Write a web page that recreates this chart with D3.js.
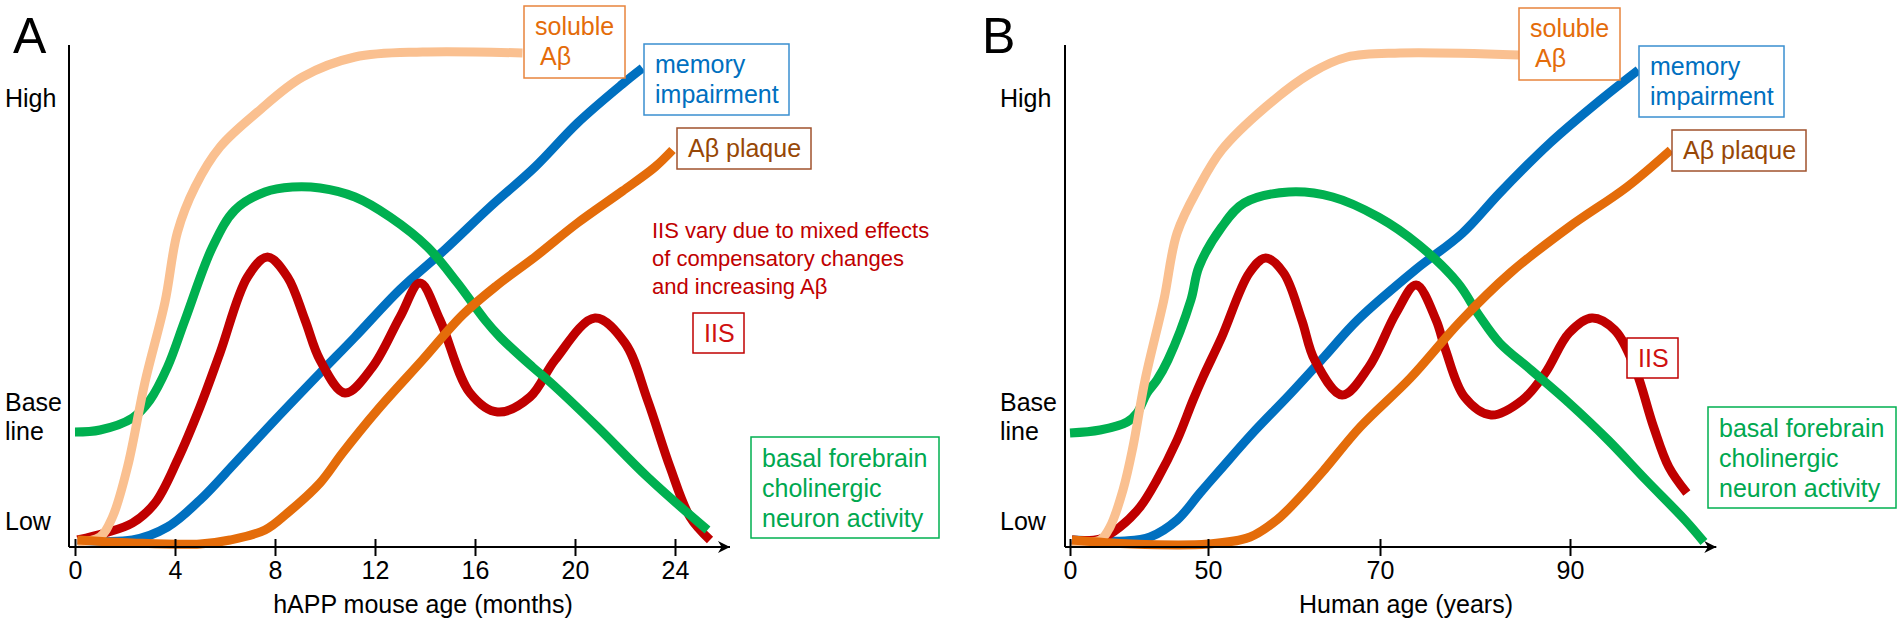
<!DOCTYPE html>
<html>
<head>
<meta charset="utf-8">
<script src="https://cdn.jsdelivr.net/npm/d3@7"></script>
<style>
body{margin:0;background:#fff;}
text{font-family:"Liberation Sans",Arial,sans-serif;}
</style>
</head>
<body>
<script>
// tick labels
var monthTicks = [0,4,8,12,16,20,24];
var yearTicks = [0,50,70,90];

// panel A, x = months, y = level (0 low .. 100 high)
var solubleA = [[0.1,1],[1,2],[1.5,6],[2.1,16],[2.8,33],[3.6,49],[4.1,63],[4.8,72],[5.8,80],[7.3,87],[9.1,94],[11.2,98],[13.9,99],[17.9,98.8]];
var greenA = [[0,23],[1,23.4],[2.3,25.8],[3,29.4],[3.7,36],[4.4,45.4],[5.5,60],[6.4,67.4],[7.6,71],[8.7,72],[9.8,71.8],[11.2,70],[12.6,66],[14.1,60],[15.3,52.8],[16.4,45.4],[17,42],[18.3,36],[19,33],[20.9,24],[22.9,14],[25.3,3.4]];
var blueA = [[0.1,1.4],[2.3,1.4],[3.7,4],[5,9.4],[6.4,16.8],[8,25.4],[9.8,34.8],[11.2,42],[13,51.5],[14.8,59.5],[16.6,68],[18.4,76],[20.1,84.8],[21.9,92.6],[22.7,95.8]];
var orangeA = [[0.1,1.4],[2.3,0.8],[5,0.6],[6.2,1.4],[7.6,3.4],[8.5,6.8],[9.8,12.8],[10.7,18.8],[12.1,27.4],[13.9,37.4],[15.5,46.4],[16.9,52.4],[18.4,58],[20.1,64.8],[21.9,71.2],[23.2,76],[23.9,79.4]];
var redA = [[0.1,1.4],[1.2,2.8],[2.3,4.8],[3.2,8.8],[4.1,17.4],[5,28],[5.8,38.8],[6.9,54],[7.7,58],[8.5,54],[9.2,45.4],[9.8,37.4],[10.8,30.8],[11.9,36],[13,46],[13.8,52.8],[14.6,45.4],[15.8,30.8],[16.9,27],[18.2,30],[19.2,37.4],[20.8,45.8],[22,40.8],[22.9,29.4],[23.8,16],[24.6,6],[25.4,1.4]];

// panel B, x = years
var solubleB = [[0.7,1],[10.9,1.4],[14.5,4],[19.2,11.4],[22.8,20],[27.2,33.4],[34,49.4],[38.8,62.8],[46.7,72],[51.6,79.4],[56.7,88],[62,94.8],[66.2,98],[72.1,98.8],[84.6,98.4]];
var greenB = [[0,22.8],[10.9,23.4],[20.7,25],[24.3,26.8],[27.9,30.8],[31.5,33.4],[35.5,37.4],[43.8,49.4],[46.7,56],[51.6,64],[54.2,68.8],[59.4,71],[64.5,70],[69.8,66],[74.1,60.4],[78.2,52.8],[80.4,46.4],[82.6,40.8],[85.9,35.4],[89.9,28.8],[94,21.4],[98,13.4],[102.1,5.4],[104.1,1]];
var blueB = [[0.7,1.4],[20,1.2],[29,2],[38.8,5.4],[47.1,10.8],[51.4,15.4],[55.2,22.8],[59.5,30.5],[63.5,38],[67.4,45.4],[73.7,55.4],[78.7,62.8],[82.6,70.8],[87.9,80.8],[93.2,89.4],[97.2,95.4]];
var orangeB = [[0.7,1.4],[22.5,0.6],[50,0.6],[54.9,2],[58,5.4],[60.7,10],[63.5,15.4],[67.7,24],[73.2,33.8],[78.4,45],[83.7,54.8],[89.9,64],[96,72],[100.6,79.4]];
var redB = [[0.7,1.4],[10.9,1.6],[18.1,4],[25.4,8],[31.5,13.4],[38.8,21.4],[44.6,29.4],[48.2,34],[51.6,42],[54.8,54.8],[56.7,57.8],[58.8,54.8],[60.9,45.4],[62.4,37.4],[65.6,30.4],[68.7,36],[71.7,46.8],[73.8,52.4],[75.9,45.4],[76.9,39.4],[78.9,30],[81.7,26.4],[85,29.4],[87.4,34.8],[89.9,42.8],[92.3,45.8],[94.7,43.4],[96.8,36],[98.8,24],[100.4,16],[102.3,10.8]];

var colors = {soluble:"#FAC090", green:"#00B050", blue:"#0070C0", orange:"#E46C0A", red:"#C00000"};

var svg = d3.select("body").append("svg").attr("width",1902).attr("height",626);

svg.append("defs").append("marker").attr("id","arrow")
  .attr("viewBox","0 0 10 10").attr("refX",10).attr("refY",5)
  .attr("markerWidth",14).attr("markerHeight",12).attr("markerUnits","userSpaceOnUse")
  .attr("orient","auto")
  .append("path").attr("d","M0,0 L10,5 L0,10 L3,5 Z").attr("fill","#000");

var y = d3.scaleLinear().domain([0,100]).range([547,47]);

var xA = d3.scaleLinear().domain([0,24]).range([75,675]);
var xB = d3.scaleLinear().domain([0,50,70,90]).range([1070,1208,1380,1570]);

function drawPanel(p){
  var g = svg.append("g");
  var x = p.x;

  // lines, bottom to top
  var line = d3.line().x(d=>x(d[0])).y(d=>y(d[1])).curve(d3.curveCatmullRom.alpha(0.5));
  p.series.forEach(function(s){
    g.append("path").attr("d",line(s.data)).attr("fill","none")
      .attr("stroke",s.color).attr("stroke-width",9).attr("stroke-linejoin","round");
  });

  // y axis
  g.append("line").attr("x1",p.axisX).attr("x2",p.axisX).attr("y1",45).attr("y2",y(0))
    .attr("stroke","#000").attr("stroke-width",2);
  // x axis with arrow
  g.append("line").attr("x1",p.axisX).attr("x2",x(p.xEnd)).attr("y1",y(0)).attr("y2",y(0))
    .attr("stroke","#000").attr("stroke-width",2).attr("marker-end","url(#arrow)");

  var ax = g.append("g").attr("transform","translate(0,"+y(0)+")")
    .call(d3.axisBottom(x).tickValues(p.ticks).tickFormat(d3.format("d")).tickSize(9).tickPadding(5));
  ax.select(".domain").remove();
  ax.selectAll(".tick line").attr("y1",-8).attr("stroke","#000").attr("stroke-width",2);
  ax.selectAll(".tick text").attr("font-size",25).attr("fill","#000")
    .attr("font-family","'Liberation Sans',Arial,sans-serif");

  // level labels
  [["High",107],["Base",411],["line",440],["Low",530]].forEach(function(l){
    g.append("text").attr("x",p.labelX).attr("y",l[1]).attr("font-size",25).text(l[0]);
  });

  g.append("text").attr("x",p.letterX).attr("y",53).attr("font-size",50).text(p.letter);
  g.append("text").attr("x",p.titleX).attr("y",613).attr("font-size",25)
    .attr("text-anchor","middle").text(p.title);

  p.boxes.forEach(function(b){
    g.append("rect").attr("x",b.x).attr("y",b.y).attr("width",b.w).attr("height",b.h)
      .attr("fill","#fff").attr("stroke",b.stroke).attr("stroke-width",1.5);
    b.lines.forEach(function(t,i){
      g.append("text").attr("x",b.x+(t[1]||11)).attr("y",b.y+b.first+i*30)
        .attr("font-size",25).attr("fill",b.fill).text(t[0]);
    });
  });
}

// dx, dy: shift of the top labels; iis and act: box corners
function boxes(dx, dy, iis, act){
  return [
    {x:524+dx,y:6+dy,w:101,h:72,stroke:"#E8843C",fill:"#E46C0A",first:29,lines:[["soluble",11],["A\u03b2",16]]},
    {x:644+dx,y:44+dy,w:145,h:71,stroke:"#3A8FD0",fill:"#0070C0",first:29,lines:[["memory"],["impairment"]]},
    {x:677+dx,y:128+dy,w:134,h:41,stroke:"#A0522D",fill:"#974706",first:29,lines:[["A\u03b2 plaque"]]},
    {x:iis[0],y:iis[1],w:51,h:40,stroke:"#C00000",fill:"#D01010",first:29,lines:[["IIS"]]},
    {x:act[0],y:act[1],w:188,h:101,stroke:"#00B050",fill:"#00A850",first:30,lines:[["basal forebrain"],["cholinergic"],["neuron activity"]]}
  ];
}

drawPanel({
  x:xA, axisX:69, xEnd:26.2, ticks:monthTicks, labelX:5, letter:"A", letterX:13,
  title:"hAPP mouse age (months)", titleX:423,
  series:[{data:blueA,color:colors.blue},{data:redA,color:colors.red},{data:greenA,color:colors.green},
          {data:solubleA,color:colors.soluble},{data:orangeA,color:colors.orange}],
  boxes:boxes(0,0,[693,313],[751,437])
});

drawPanel({
  x:xB, axisX:1065, xEnd:105.4, ticks:yearTicks, labelX:1000, letter:"B", letterX:982,
  title:"Human age (years)", titleX:1406,
  series:[{data:blueB,color:colors.blue},{data:redB,color:colors.red},{data:greenB,color:colors.green},
          {data:solubleB,color:colors.soluble},{data:orangeB,color:colors.orange}],
  boxes:boxes(995,2,[1627,338],[1708,407])
});

// note in panel A
["IIS vary due to mixed effects","of compensatory changes","and increasing A\u03b2"].forEach(function(t,i){
  svg.append("text").attr("x",652).attr("y",238+i*28).attr("font-size",22).attr("fill","#C00000").text(t);
});
</script>
</body>
</html>
